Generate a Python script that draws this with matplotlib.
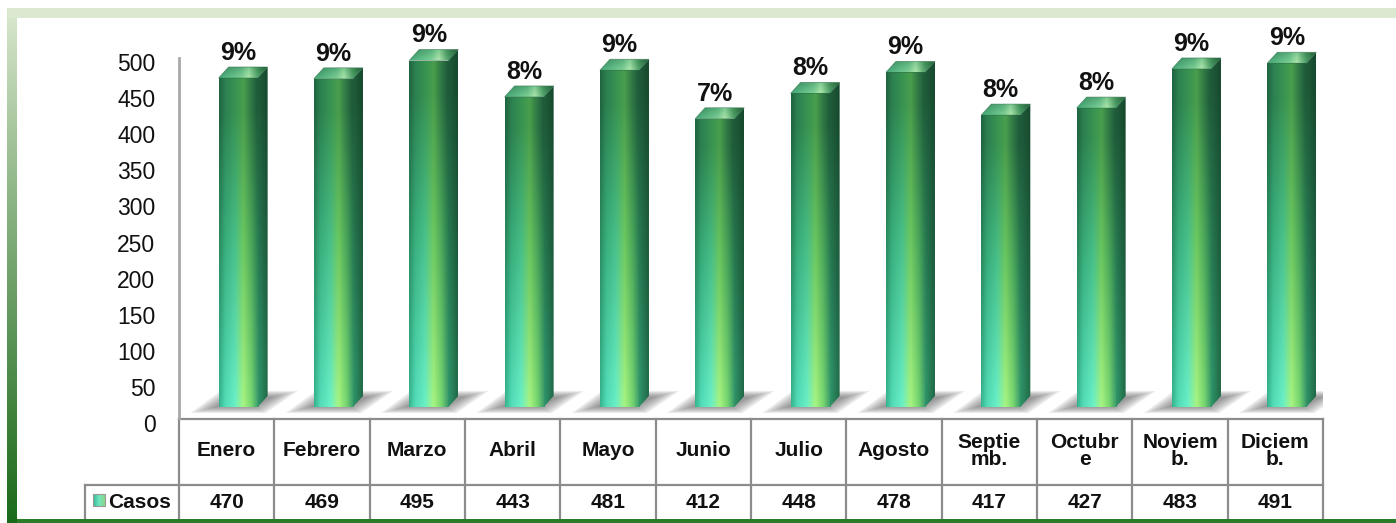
import numpy as np
import matplotlib
matplotlib.use("Agg")
import matplotlib.pyplot as plt
from matplotlib.patches import Rectangle, Polygon
from matplotlib.colors import to_rgb

# ---------------- data ----------------
months = ["Enero", "Febrero", "Marzo", "Abril", "Mayo", "Junio", "Julio",
          "Agosto", "Septie\nmb.", "Octubr\ne", "Noviem\nb.", "Diciem\nb."]
casos = [470, 469, 495, 443, 481, 412, 448, 478, 417, 427, 483, 491]
pct_labels = ["9%", "9%", "9%", "8%", "9%", "7%", "8%", "9%", "8%", "8%", "9%", "9%"]
series_name = "Casos"
yticks = [0, 50, 100, 150, 200, 250, 300, 350, 400, 450, 500]

plt.rcParams['font.family'] = ['Liberation Sans', 'DejaVu Sans']

W, H, DPI = 1396, 523, 100
fig = plt.figure(figsize=(W / DPI, H / DPI), dpi=DPI, facecolor='white')


def fr(x0, y0, x1, y1):
    return [x0 / W, 1 - y1 / H, (x1 - x0) / W, (y1 - y0) / H]


def hprofile(stops, n):
    pos = [p for p, _ in stops]
    cols = np.array([to_rgb(c) for _, c in stops])
    xs = np.linspace(0, 1, n)
    return np.stack([np.interp(xs, pos, cols[:, k]) for k in range(3)], axis=-1)


# ---------------- background / frame (pixel coords) ----------------
bg = fig.add_axes([0, 0, 1, 1])
bg.set_zorder(0)
bg.axis('off')

lt = np.array(to_rgb('#dce9d0'))
dk = np.array(to_rgb('#1b6a1a'))
tt = np.linspace(0, 1, 300)[:, None, None] ** 0.9
band = lt[None, None, :] * (1 - tt) + dk[None, None, :] * tt
band = np.repeat(band, 2, axis=1)
bg.imshow(band, extent=(7, 17, 523, 8), origin='upper', aspect='auto',
          interpolation='bilinear', zorder=1)
bg.add_patch(Rectangle((9, 8), W - 9, 10, facecolor='#dce9d1', edgecolor='none', zorder=1))
bg.add_patch(Rectangle((17, 519), W - 17, 5, facecolor='#2b7b28', edgecolor='none', zorder=4))

# ---------------- tick-label axes ----------------
axt = fig.add_axes(fr(179, 62, 1323, 423))
axt.set_zorder(1)
axt.patch.set_alpha(0)
axt.set_ylim(0, 500)
axt.set_yticks(yticks)
axt.set_yticklabels([str(v) for v in yticks], fontsize=16.5, color='#111111')
axt.tick_params(axis='y', length=0, pad=17)
axt.set_xticks([])
for s in axt.spines.values():
    s.set_visible(False)

# ---------------- bar axes ----------------
ax = fig.add_axes(fr(179, 58, 1323, 418))
ax.set_zorder(2)
ax.patch.set_alpha(0)
XLIM = (-0.5, 11.5)
YLIM = (-(418 - 407) / 0.70, (407 - 58) / 0.70)
ax.set_xlim(*XLIM)
ax.set_ylim(*YLIM)
for s in ['top', 'right', 'bottom']:
    ax.spines[s].set_visible(False)
ax.spines['left'].set_color('#a8a8a8')
ax.spines['left'].set_linewidth(2)
ax.set_xticks([])
ax.set_yticks([])

x = np.arange(len(months))
bars = ax.bar(x + 0.12, casos, width=0.41, facecolor='none', edgecolor='none', zorder=3)

p0 = ax.transData.transform((0, 0))
p1 = ax.transData.transform((1, 1))
sx, sy = p1[0] - p0[0], p1[1] - p0[1]
dx, dy = 10 / sx, 11 / sy

front_bottom = hprofile([(0, '#36b48e'), (0.15, '#52dcb8'), (0.4, '#6af0c8'),
                         (0.62, '#a8f480'), (0.82, '#76d670'), (1, '#38986c')], 60)
front_mid = hprofile([(0, '#2a8a5e'), (0.15, '#38ae7c'), (0.4, '#48c08a'),
                      (0.62, '#6cc85e'), (0.82, '#4aa65a'), (1, '#267a50')], 60)
front_top = hprofile([(0, '#1f6440'), (0.15, '#2c8050'), (0.45, '#3a9652'),
                      (0.62, '#4a9e4c'), (0.82, '#2e7644'), (1, '#1c5638')], 60)
ny = 240
t = np.linspace(0, 1, ny)[:, None, None]
w1 = np.clip(t / 0.5, 0, 1)
w2 = np.clip((t - 0.5) / 0.4, 0, 1)
front_img = np.where(t < 0.5,
                     front_bottom[None] * (1 - w1) + front_mid[None] * w1,
                     front_mid[None] * (1 - w2) + front_top[None] * w2)

side_bottom = hprofile([(0, '#2f9468'), (1, '#216a48')], 10)
side_top = hprofile([(0, '#1f5c3a'), (1, '#174a2e')], 10)
wgt = np.clip((t - 0.1) / 0.8, 0, 1)
side_img = side_bottom[None] * (1 - wgt) + side_top[None] * wgt

cap_front = hprofile([(0, '#46ac7a'), (0.45, '#7ccf96'), (0.6, '#aee6ac'),
                      (0.78, '#52a46c'), (1, '#2a6c44')], 60)
cap_back = hprofile([(0, '#358a5e'), (0.45, '#58ae7a'), (0.6, '#80cc92'),
                     (0.78, '#3e8c56'), (1, '#215a38')], 60)
tc = np.linspace(0, 1, 20)[:, None, None]
cap_img = cap_front[None] * (1 - tc) + cap_back[None] * tc

for b in bars:
    x0 = b.get_x()
    x1 = x0 + b.get_width()
    h = b.get_height()
    # floor shadow (layered for a soft edge)
    for k in range(7):
        sh = k * 2.0
        poly = [(x0 - (28 - sh * 2) / sx, -(6 - sh * 0.5) / sy),
                (x1 + (8 - sh) / sx, -(6 - sh * 0.5) / sy),
                (x1 + (40 - sh * 2) / sx, (16 - sh * 0.5) / sy),
                (x0 + (2 + sh) / sx, (16 - sh * 0.5) / sy)]
        ax.add_patch(Polygon(poly, closed=True, facecolor='#606060', edgecolor='none',
                             alpha=0.13, zorder=2))
    # front face
    im = ax.imshow(front_img, extent=(x0, x1, 0, h), origin='lower', aspect='auto',
                   interpolation='bilinear', zorder=3)
    im.set_clip_path(b)
    # side face
    side = Polygon([(x1, 0), (x1, h), (x1 + dx, h + dy), (x1 + dx, dy)], closed=True,
                   facecolor='none', edgecolor='none')
    ax.add_patch(side)
    ims = ax.imshow(side_img, extent=(x1, x1 + dx, 0, h + dy), origin='lower',
                    aspect='auto', interpolation='bilinear', zorder=3)
    ims.set_clip_path(side)
    ims.set_clip_box(fig.bbox)
    # top cap
    cap = Polygon([(x0, h), (x1, h), (x1 + dx, h + dy), (x0 + dx, h + dy)], closed=True,
                  facecolor='none', edgecolor='none')
    ax.add_patch(cap)
    imc = ax.imshow(cap_img, extent=(x0, x1 + dx, h, h + dy), origin='lower',
                    aspect='auto', interpolation='bilinear', zorder=4)
    imc.set_clip_path(cap)
    imc.set_clip_box(fig.bbox)
    ax.add_patch(Polygon([(x0, h), (x1, h), (x1 + dx, h + dy), (x0 + dx, h + dy)],
                         closed=True, facecolor='none', edgecolor='#2f6e48', lw=0.6,
                         alpha=0.6, zorder=5, clip_on=False))

for b, lab in zip(bars, pct_labels):
    xc = b.get_x() + b.get_width() / 2
    ax.annotate(lab, xy=(xc, b.get_height()), xytext=(0, 13.0), textcoords='offset points',
                ha='center', va='baseline', fontsize=18, fontweight='bold',
                color='#111111', annotation_clip=False, zorder=6)

ax.set_xlim(*XLIM)
ax.set_ylim(*YLIM)

# ---------------- data table (pixel coords in bg) ----------------
bg.set_xlim(0, W)
bg.set_ylim(H, 0)


def colx(v):
    return ax.transData.transform((v, 0))[0]


edges = [colx(i - 0.5) for i in range(len(months) + 1)]
centers = [colx(i) for i in range(len(months))]
lc = '#8c8c8c'
lw = 1.6
bg.add_line(plt.Line2D([edges[0], edges[-1]], [419, 419], color=lc, lw=lw, zorder=3))
bg.add_line(plt.Line2D([85, edges[-1]], [484.5, 484.5], color=lc, lw=lw, zorder=3))
bg.add_line(plt.Line2D([85, 85], [484.5, 521], color=lc, lw=lw, zorder=3))
for ex in edges:
    bg.add_line(plt.Line2D([ex, ex], [419, 521], color=lc, lw=lw, zorder=3))

for xc, m, v in zip(centers, months, casos):
    bg.text(xc, 451, m, ha='center', va='center', fontsize=15, fontweight='bold',
            color='#111111', linespacing=0.92, zorder=5)
    bg.text(xc, 503, str(v), ha='center', va='center', fontsize=15, fontweight='bold',
            color='#111111', zorder=5)

key = hprofile([(0, '#3ab89a'), (0.5, '#6ee6c0'), (1, '#8ad88a')], 12)
key_img = np.repeat(key[None], 12, axis=0)
bg.imshow(key_img, extent=(93, 105, 506, 494), origin='upper', aspect='auto',
          interpolation='bilinear', zorder=4)
bg.add_patch(Rectangle((93, 494), 12, 12, facecolor='none', edgecolor='#9a9a9a', lw=0.8, zorder=5))
bg.text(108, 503, series_name, ha='left', va='center', fontsize=15, fontweight='bold',
        color='#111111', zorder=5)

bg.set_xlim(0, W)
bg.set_ylim(H, 0)

fig.savefig('out.png', dpi=DPI, facecolor='white')
